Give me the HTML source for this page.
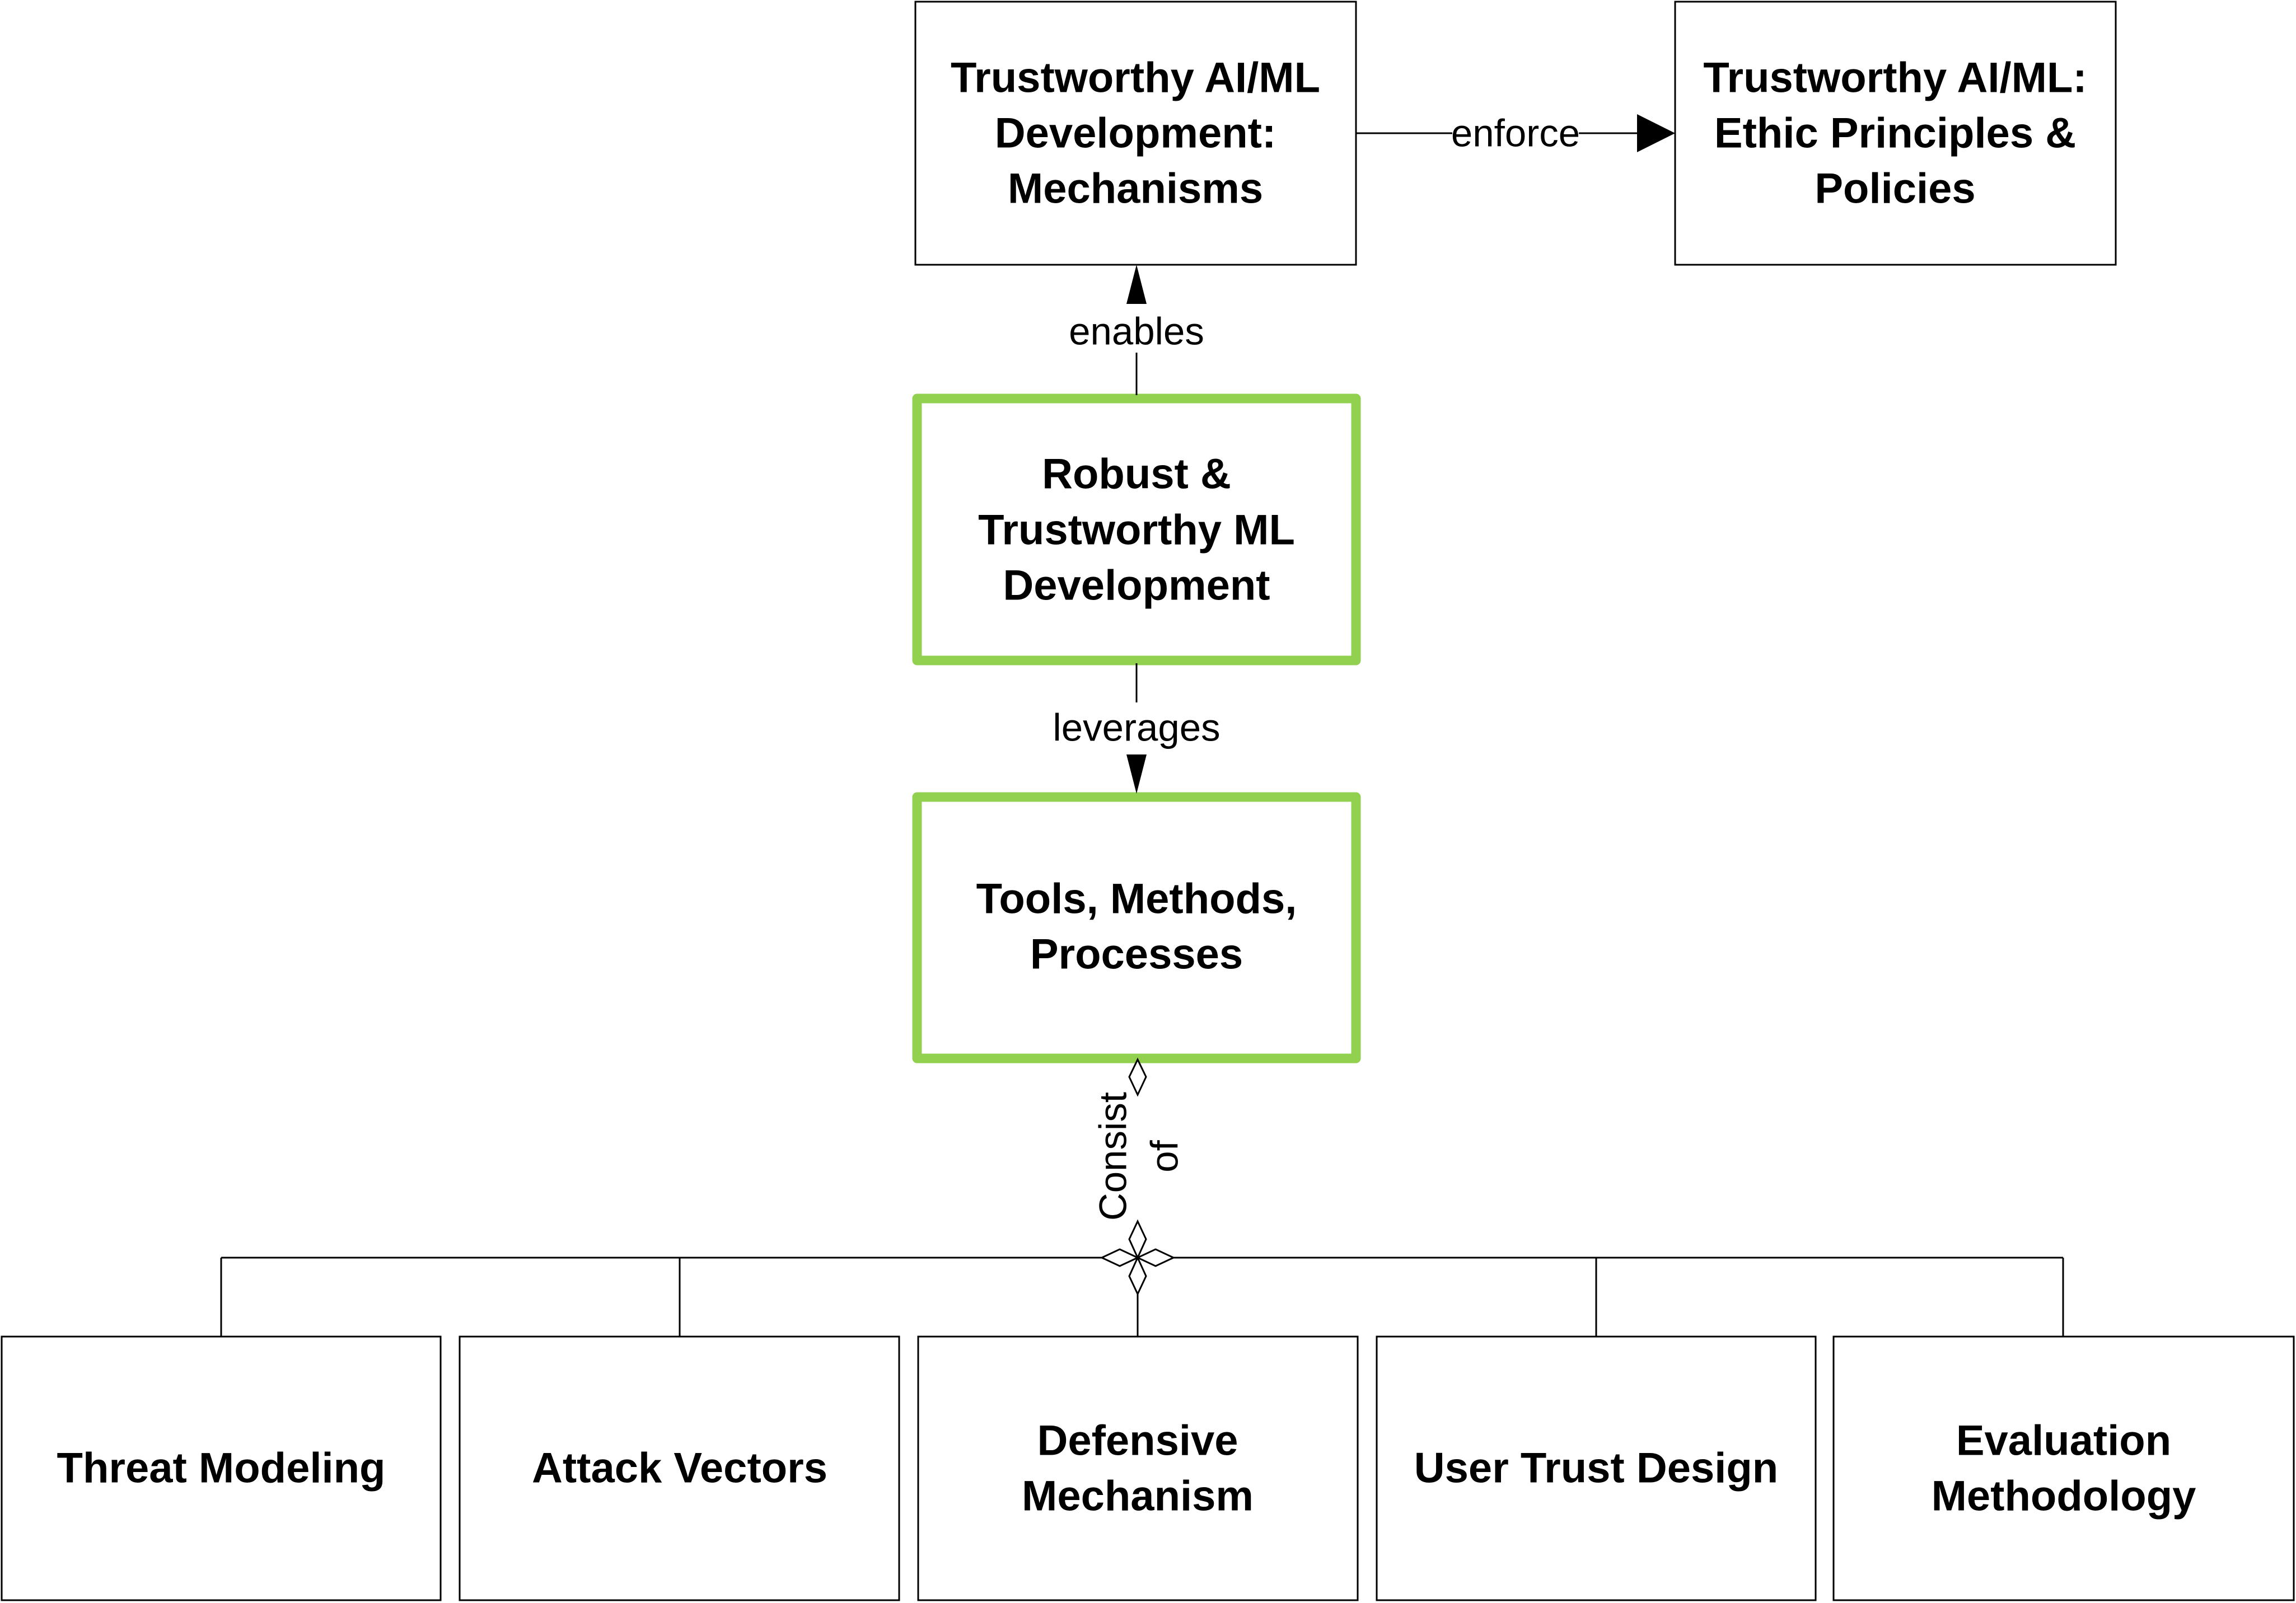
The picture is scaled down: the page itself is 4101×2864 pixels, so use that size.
<!DOCTYPE html>
<html><head><meta charset="utf-8"><style>
html,body{margin:0;padding:0;background:#fff;}
svg{display:block;}
.b{font-family:"Liberation Sans",sans-serif;font-weight:bold;font-size:76px;fill:#000;}
.l{font-family:"Liberation Sans",sans-serif;font-size:69px;fill:#000;}
</style></head><body>
<svg width="4101" height="2864" viewBox="0 0 4101 2864" xmlns="http://www.w3.org/2000/svg">
<g fill="#fff" stroke="#000" stroke-width="3">
<rect x="1635" y="3" width="787" height="470"/>
<rect x="2992" y="3" width="787" height="470"/>
<rect x="3" y="2388" width="784" height="471"/>
<rect x="821" y="2388" width="785" height="471"/>
<rect x="1640" y="2388" width="785" height="471"/>
<rect x="2459" y="2388" width="784" height="471"/>
<rect x="3275" y="2388" width="822" height="471"/>
</g>
<g fill="#fff" stroke="#92d050" stroke-width="17" stroke-linejoin="round">
<rect x="1638" y="712" width="784" height="468"/>
<rect x="1638" y="1424" width="784" height="467"/>
</g>
<g stroke="#000" stroke-width="3" fill="none">
<line x1="2422" y1="238" x2="2594" y2="238"/>
<line x1="2820" y1="238" x2="2930" y2="238"/>
<line x1="2030" y1="706" x2="2030" y2="630"/>
<line x1="2030" y1="1185" x2="2030" y2="1255"/>
<line x1="395" y1="2247" x2="3685" y2="2247"/>
<line x1="395" y1="2247" x2="395" y2="2388"/>
<line x1="1214" y1="2247" x2="1214" y2="2388"/>
<line x1="2032" y1="2247" x2="2032" y2="2388"/>
<line x1="2851" y1="2247" x2="2851" y2="2388"/>
<line x1="3685" y1="2247" x2="3685" y2="2388"/>
</g>
<g fill="#000">
<polygon points="2992,238 2924,204 2924,272"/>
<polygon points="2030,473 2012,543 2048,543"/>
<polygon points="2030,1418 2012,1348 2048,1348"/>
</g>
<g fill="#fff" stroke="#000" stroke-width="3">
<polygon points="2032,1893 2047,1924 2032,1956 2017,1924"/>
<polygon points="2032,2182 2047,2214 2032,2247 2017,2214"/>
<polygon points="2032,2247 2047,2280 2032,2312 2017,2280"/>
<polygon points="2032,2247 2000,2232 1968,2247 2000,2262"/>
<polygon points="2032,2247 2064,2232 2096,2247 2064,2262"/>
</g>
<g class="b" text-anchor="middle" dominant-baseline="central">
<text x="2028" y="139">Trustworthy AI/ML</text>
<text x="2028" y="238">Development:</text>
<text x="2028" y="337">Mechanisms</text>
<text x="3385" y="139">Trustworthy AI/ML:</text>
<text x="3385" y="238">Ethic Principles &amp;</text>
<text x="3385" y="337">Policies</text>
<text x="2030" y="847">Robust &amp;</text>
<text x="2030" y="947">Trustworthy ML</text>
<text x="2030" y="1046">Development</text>
<text x="2030" y="1606">Tools, Methods,</text>
<text x="2030" y="1705">Processes</text>
<text x="395" y="2623">Threat Modeling</text>
<text x="1214" y="2623">Attack Vectors</text>
<text x="2032" y="2574">Defensive</text>
<text x="2032" y="2673">Mechanism</text>
<text x="2851" y="2623">User Trust Design</text>
<text x="3686" y="2574">Evaluation</text>
<text x="3686" y="2673">Methodology</text>
</g>
<g class="l" text-anchor="middle" dominant-baseline="central">
<text x="2707" y="238">enforce</text>
<text x="2030" y="592">enables</text>
<text x="2030" y="1300">leverages</text>
<text transform="translate(1988,2066) rotate(-90)">Consist</text>
<text transform="translate(2080,2066) rotate(-90)">of</text>
</g>
</svg>
</body></html>
